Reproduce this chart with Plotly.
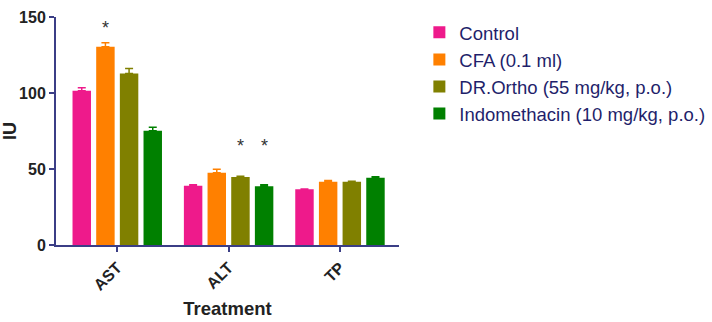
import plotly.graph_objects as go

categories = ["AST", "ALT", "TP"]
groups = ["Control", "CFA (0.1 ml)", "DR.Ortho (55 mg/kg, p.o.)", "Indomethacin (10 mg/kg, p.o.)"]
control = [101.5, 39.0, 36.6]
cfa = [130.5, 47.5, 41.6]
drortho = [112.8, 44.8, 41.6]
indomethacin = [75.2, 38.6, 44.3]
control_err = [2.0, 0.6, 0.3]
cfa_err = [2.6, 2.3, 0.9]
drortho_err = [3.4, 0.4, 0.3]
indomethacin_err = [2.2, 1.0, 0.6]
# significance markers: (category, group index, y value)
sig_marks = [("AST", 1, 142.5), ("ALT", 2, 65.0), ("ALT", 3, 65.0)]

colors = ["#EE1A8B", "#FF8000", "#808000", "#008000"]
values = [control, cfa, drortho, indomethacin]
errs = [control_err, cfa_err, drortho_err, indomethacin_err]

bargap = 0.15
fig = go.Figure()
for name, vals, err, col in zip(groups, values, errs, colors):
    fig.add_trace(go.Bar(
        x=categories, y=vals, name=name,
        marker=dict(color=col, line=dict(width=0)),
        error_y=dict(type="data", array=err, arrayminus=[0]*len(err), symmetric=False,
                     color=col, thickness=1.5, width=4),
    ))

n = len(groups)
for cat, gi, yv in sig_marks:
    xi = categories.index(cat) + (gi - (n - 1) / 2) * (1 - bargap) / n
    fig.add_annotation(x=xi, y=yv, text="*", showarrow=False,
                       font=dict(family="Liberation Sans", size=18, color="#333333"))

axis_col = "#3b3e86"
fig.update_layout(
    width=712, height=322,
    margin=dict(l=56, r=313, t=17, b=77),
    paper_bgcolor="white", plot_bgcolor="white",
    barmode="group", bargap=bargap, bargroupgap=0.22,
    showlegend=True,
    legend=dict(xref="container", yref="container", x=0.589, y=0.957,
                xanchor="left", yanchor="top",
                font=dict(family="Liberation Sans", size=18.5, color="#1f1f6b"),
                tracegroupgap=0, itemwidth=30),
    xaxis=dict(range=[-0.55, 2.53], showline=True, linecolor=axis_col, linewidth=2,
               ticks="outside", ticklen=5, tickwidth=2, tickcolor=axis_col,
               tickangle=-45, showgrid=False, zeroline=False, automargin=False,
               tickfont=dict(family="Liberation Sans", size=16, color="#222222", weight="bold"),
               title=dict(text="<b>Treatment</b>", standoff=9,
                          font=dict(family="Liberation Sans", size=18.5, color="#222222"))),
    yaxis=dict(range=[0, 150], tickvals=[0, 50, 100, 150], showline=True, linecolor=axis_col,
               linewidth=2, ticks="outside", ticklen=5, tickwidth=2, tickcolor=axis_col,
               showgrid=False, zeroline=False, automargin=False,
               tickfont=dict(family="Liberation Sans", size=16, color="#222222", weight="bold"),
               title=dict(text="<b>IU</b>", standoff=6,
                          font=dict(family="Liberation Sans", size=18, color="#222222"))),
)
fig.write_html("out.html")
